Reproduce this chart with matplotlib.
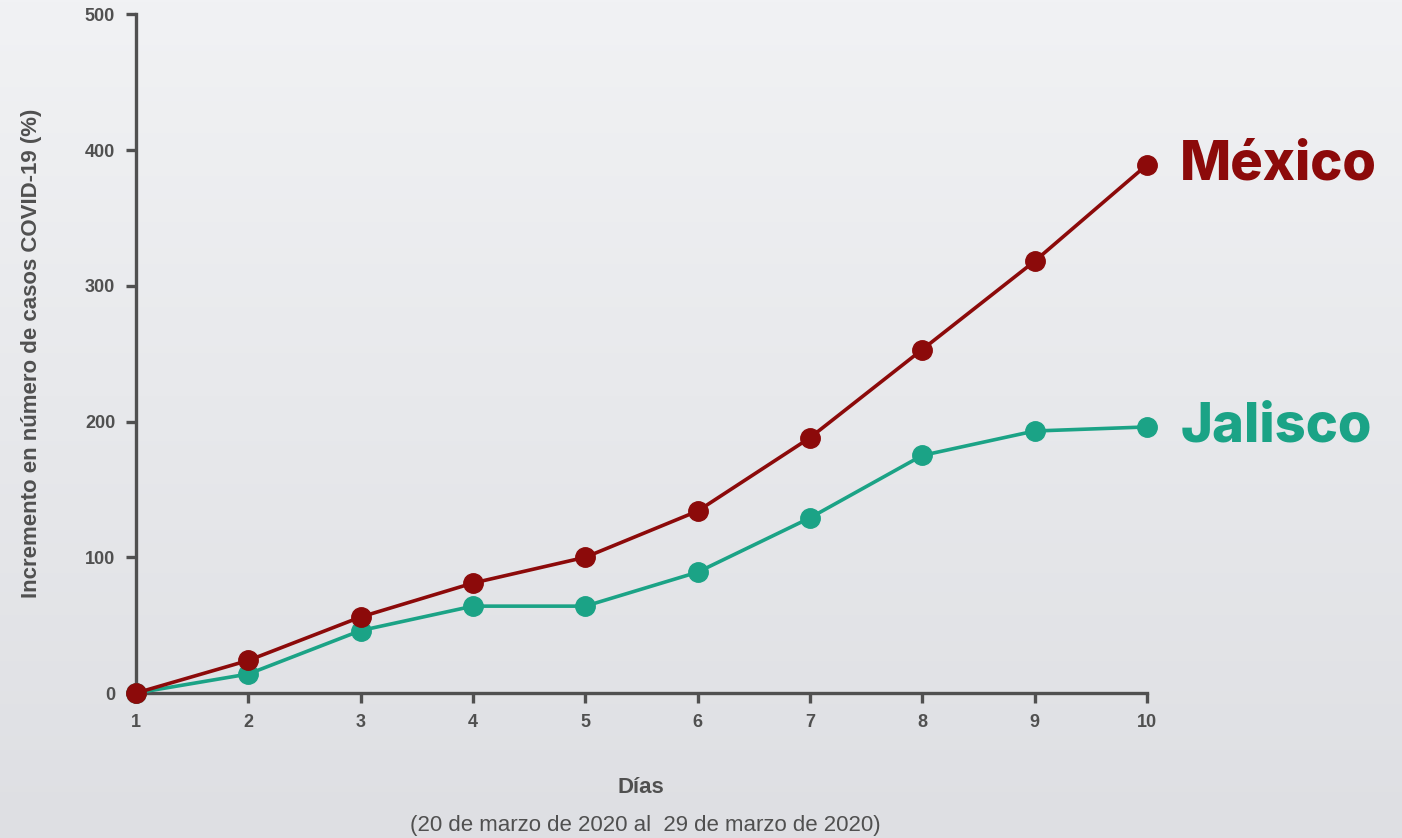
import numpy as np
import matplotlib.pyplot as plt
from matplotlib.colors import LinearSegmentedColormap

# Datos: incremento porcentual de casos COVID-19
dias = [1, 2, 3, 4, 5, 6, 7, 8, 9, 10]
mexico = [0, 24, 56, 81, 100, 134, 188, 253, 318, 389]
jalisco = [0, 14, 46, 64, 64, 89, 129, 175, 193, 196]
y_ticks = [0, 100, 200, 300, 400, 500]

color_mexico = '#8c0a0a'
color_jalisco = '#1ba386'
gris = '#505050'

plt.rcParams['font.family'] = ['Liberation Sans', 'DejaVu Sans']

fig = plt.figure(figsize=(14.02, 8.38), dpi=100)

# Fondo con degradado vertical
bg = fig.add_axes([0, 0, 1, 1], zorder=-10)
grad = np.linspace(0, 1, 256).reshape(-1, 1)
bg.imshow(grad, aspect='auto', cmap=LinearSegmentedColormap.from_list('fondo', ['#f1f2f4', '#dedfe3']),
          extent=[0, 1, 0, 1], origin='upper')
bg.axis('off')

ax = fig.add_axes([0.097, 0.173, 0.721, 0.810])
ax.patch.set_alpha(0)

ax.plot(dias, jalisco, color=color_jalisco, lw=2.6, marker='o', ms=14, clip_on=False, zorder=3)
ax.plot(dias, mexico, color=color_mexico, lw=2.6, marker='o', ms=14, clip_on=False, zorder=4)

ax.set_xlim(1, 10)
ax.set_ylim(0, 500)
ax.set_xticks(dias)
ax.set_yticks(y_ticks)

for s in ['top', 'right']:
    ax.spines[s].set_visible(False)
for s in ['left', 'bottom']:
    ax.spines[s].set_color(gris)
    ax.spines[s].set_linewidth(2.4)

ax.tick_params(axis='both', colors=gris, width=2.4, length=7, labelsize=13, pad=8)
for lbl in ax.get_xticklabels() + ax.get_yticklabels():
    lbl.set_fontweight('bold')

ax.set_ylabel('Incremento en número de casos COVID-19 (%)', fontsize=16, fontweight='bold',
              color=gris)
ax.yaxis.set_label_coords(-0.093, 0.5)

fig.text(0.457, 0.060, 'Días', ha='center', va='center', fontsize=16, fontweight='bold', color=gris)
fig.text(0.460, 0.015, '(20 de marzo de 2020 al  29 de marzo de 2020)', ha='center', va='center',
         fontsize=16, color=gris)

# Etiquetas de las series
for nombre, serie, col in [('México', mexico, color_mexico), ('Jalisco', jalisco, color_jalisco)]:
    ax.annotate(nombre, xy=(dias[-1], serie[-1]), xytext=(24, 0), textcoords='offset points',
                ha='left', va='center', fontsize=39, fontweight='heavy', color=col,
                family=['Inter', 'DejaVu Sans'], annotation_clip=False)

fig.savefig('out.png', dpi=100)
